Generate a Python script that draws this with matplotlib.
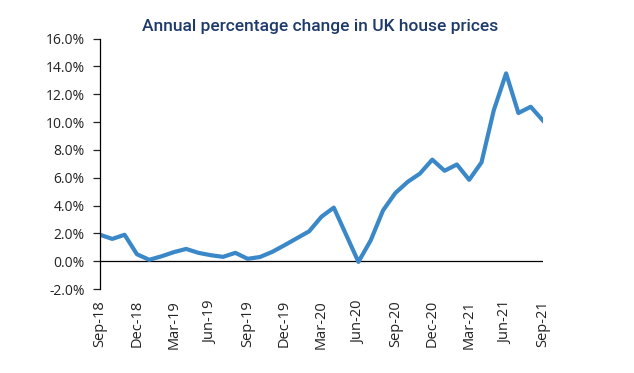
import matplotlib
matplotlib.use("Agg")
import matplotlib.pyplot as plt
import numpy as np

# monthly annual % change, Sep-18 .. Sep-21
months = ["Sep-18", "Oct-18", "Nov-18", "Dec-18", "Jan-19", "Feb-19", "Mar-19",
          "Apr-19", "May-19", "Jun-19", "Jul-19", "Aug-19", "Sep-19", "Oct-19",
          "Nov-19", "Dec-19", "Jan-20", "Feb-20", "Mar-20", "Apr-20", "May-20",
          "Jun-20", "Jul-20", "Aug-20", "Sep-20", "Oct-20", "Nov-20", "Dec-20",
          "Jan-21", "Feb-21", "Mar-21", "Apr-21", "May-21", "Jun-21", "Jul-21",
          "Aug-21", "Sep-21"]
change = [1.9, 1.6, 1.9, 0.5, 0.1, 0.35, 0.65, 0.88, 0.6, 0.43, 0.31, 0.6, 0.17,
          0.3, 0.67, 1.15, 1.65, 2.15, 3.2, 3.85, 1.9, -0.05, 1.5, 3.65, 4.9,
          5.7, 6.3, 7.3, 6.5, 6.95, 5.85, 7.1, 10.85, 13.5, 10.65, 11.1, 10.1]
tick_every = 3

plt.rcParams["font.family"] = ["Open Sans", "DejaVu Sans"]

fig = plt.figure(figsize=(6.34, 3.73), dpi=100)
ax = fig.add_axes([0.1577, 0.2252, 0.6988, 0.6713])

x = np.arange(len(change))
ax.plot(x, change, color="#3b88c8", lw=3.0, solid_joinstyle="round")
ax.axhline(0, color="black", lw=0.9, zorder=1)

ax.set_xlim(0, len(change) - 1)
ax.set_ylim(-2, 16)
ax.set_yticks(np.arange(-2, 17, 2))
ax.set_yticklabels([f"{v:.1f}%" for v in np.arange(-2, 17, 2)])
ax.set_xticks(x[::tick_every])
ax.set_xticklabels(months[::tick_every], rotation=90)

for s in ["top", "right", "bottom"]:
    ax.spines[s].set_visible(False)
ax.spines["left"].set_linewidth(0.9)
ax.tick_params(axis="y", length=5, width=0.9, pad=6, labelsize=10, colors="#222222")
ax.tick_params(axis="x", length=0, pad=8, labelsize=10.5, colors="#222222")

fig.text(0.505, 0.93, "Annual percentage change in UK house prices",
         ha="center", va="center", fontsize=12.5, fontweight="medium",
         color="#1d3a6b", family=["Roboto", "DejaVu Sans"])

fig.savefig("out.png", dpi=100)
